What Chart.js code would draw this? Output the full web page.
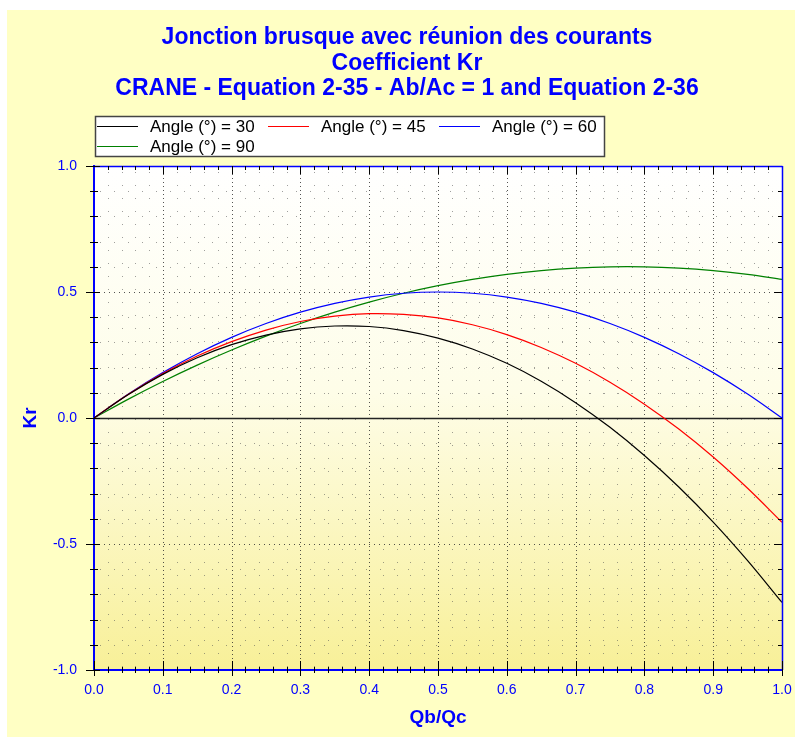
<!DOCTYPE html>
<html>
<head>
<meta charset="utf-8">
<script src="https://cdn.jsdelivr.net/npm/chart.js@4.4.0/dist/chart.umd.min.js"></script>
<style>
  html, body { margin: 0; padding: 0; background: #fff; }
  canvas { display: block; }
</style>
</head>
<body>
<canvas id="krChart" width="795" height="737"></canvas>
<script>
// titre et données
const titleLines = [
  'Jonction brusque avec réunion des courants',
  'Coefficient Kr',
  'CRANE - Equation 2-35 - Ab/Ac = 1 and Equation 2-36'
];
const xTitle = 'Qb/Qc';
const yTitle = 'Kr';
const seriesNames = ['Angle (°) = 30', 'Angle (°) = 45', 'Angle (°) = 60', 'Angle (°) = 90'];

const qb = [0, 0.05, 0.1, 0.15, 0.2, 0.25, 0.3, 0.35, 0.4, 0.45, 0.5,
            0.55, 0.6, 0.65, 0.7, 0.75, 0.8, 0.85, 0.9, 0.95, 1.0];
const kr30 = [0, 0.093, 0.173, 0.239, 0.291, 0.329, 0.354, 0.365, 0.363, 0.347, 0.317,
              0.274, 0.217, 0.146, 0.061, -0.037, -0.149, -0.274, -0.413, -0.566, -0.732];
const kr45 = [0, 0.094, 0.176, 0.246, 0.303, 0.349, 0.383, 0.404, 0.414, 0.411, 0.397,
              0.370, 0.331, 0.280, 0.217, 0.142, 0.055, -0.044, -0.155, -0.279, -0.414];
const kr60 = [0, 0.095, 0.180, 0.255, 0.320, 0.375, 0.420, 0.455, 0.480, 0.495, 0.500,
              0.495, 0.480, 0.455, 0.420, 0.375, 0.320, 0.255, 0.180, 0.095, 0];
const kr90 = [0, 0.075, 0.145, 0.210, 0.270, 0.325, 0.375, 0.420, 0.460, 0.495, 0.525,
              0.550, 0.570, 0.585, 0.595, 0.600, 0.600, 0.595, 0.585, 0.570, 0.550];

const FONT = "'Liberation Sans', Arial, sans-serif";
const BLUE = '#0000ff';

function toPoints(ys) {
  return qb.map((q, i) => ({ x: q, y: ys[i] }));
}

function seg(ctx, x1, y1, x2, y2) {
  ctx.beginPath();
  ctx.moveTo(x1, y1);
  ctx.lineTo(x2, y2);
  ctx.stroke();
}

// fond, dégradé, grille pointillée, ligne zéro
const backdrop = {
  id: 'backdrop',
  beforeDraw(chart) {
    const { ctx, chartArea: a, scales: { x, y } } = chart;
    ctx.save();
    ctx.fillStyle = '#ffffc4';
    ctx.fillRect(7, 10, chart.width - 7, chart.height - 10);

    const g = ctx.createLinearGradient(0, a.top, 0, a.bottom);
    g.addColorStop(0, '#ffffff');
    g.addColorStop(0.45, '#fefde8');
    g.addColorStop(1, '#f8f098');
    ctx.fillStyle = g;
    ctx.fillRect(a.left, a.top, a.right - a.left, a.bottom - a.top);

    ctx.lineWidth = 1;
    // petite grille
    ctx.strokeStyle = 'rgba(80,80,80,0.55)';
    ctx.setLineDash([1, 12]);
    for (let i = 1; i < 50; i++) {
      if (i % 5 === 0) continue;
      const px = Math.round(x.getPixelForValue(i / 50)) + 0.5;
      seg(ctx, px, a.top + 6, px, a.bottom);
    }
    ctx.setLineDash([1, 13]);
    for (let i = -9; i <= 9; i++) {
      if (i % 5 === 0) continue;
      const py = Math.round(y.getPixelForValue(i / 10)) + 0.5;
      seg(ctx, a.left + 6, py, a.right, py);
    }
    // grille principale
    ctx.strokeStyle = 'rgba(40,40,40,0.8)';
    ctx.setLineDash([1, 3]);
    for (let i = 1; i < 10; i++) {
      const px = Math.round(x.getPixelForValue(i / 10)) + 0.5;
      seg(ctx, px, a.top, px, a.bottom);
    }
    ctx.setLineDash([1, 4]);
    [-0.5, 0.5].forEach(v => {
      const py = Math.round(y.getPixelForValue(v)) + 0.5;
      seg(ctx, a.left, py, a.right, py);
    });
    ctx.setLineDash([]);
    ctx.strokeStyle = '#222';
    ctx.lineWidth = 1.4;
    const y0 = Math.round(y.getPixelForValue(0)) + 0.5;
    seg(ctx, a.left, y0, a.right, y0);
    ctx.restore();
  },
  afterDraw(chart) {
    const { ctx, chartArea: a, scales: { x, y } } = chart;
    ctx.save();
    // cadre haut / droite
    ctx.strokeStyle = BLUE;
    ctx.lineWidth = 1.5;
    seg(ctx, a.left, a.top + 0.5, a.right + 0.5, a.top + 0.5);
    seg(ctx, a.right + 0.5, a.top, a.right + 0.5, a.bottom);

    // graduations
    ctx.lineWidth = 1;
    ctx.strokeStyle = '#000';
    for (let i = 0; i <= 50; i++) {
      const px = Math.round(x.getPixelForValue(i / 50)) + 0.5;
      const major = i % 5 === 0;
      seg(ctx, px, a.bottom - (major ? 9 : 3), px, a.bottom + (major ? 6 : 3));
      if (i > 0 && i < 50) seg(ctx, px, a.top, px, a.top + (major ? 8 : 4));
    }
    for (let i = -10; i <= 10; i++) {
      const py = Math.round(y.getPixelForValue(i / 10)) + 0.5;
      const major = i % 5 === 0;
      seg(ctx, a.left - (major ? 8 : 4), py, a.left + (major ? 6 : 4), py);
      if (i > -10 && i < 10) seg(ctx, a.right - (major ? 8 : 4), py, a.right, py);
    }

    // titre
    ctx.fillStyle = BLUE;
    ctx.font = 'bold 23px ' + FONT;
    ctx.textAlign = 'center';
    ctx.textBaseline = 'middle';
    titleLines.forEach((t, i) => ctx.fillText(t, 407, 38 + i * 25.5));

    // légende
    ctx.fillStyle = '#ffffff';
    ctx.fillRect(95, 116, 509, 40);
    ctx.strokeStyle = '#444';
    ctx.lineWidth = 1.5;
    ctx.strokeRect(95.5, 116.5, 509, 40);
    ctx.font = '17px ' + FONT;
    ctx.textAlign = 'left';
    ctx.fillStyle = '#000';
    chart.data.datasets.forEach((ds, i) => {
      const lx = 97 + (i % 3) * 171;
      const ly = 126 + Math.floor(i / 3) * 20;
      ctx.strokeStyle = ds.borderColor;
      ctx.lineWidth = 1.2;
      seg(ctx, lx, ly + 0.5, lx + 41, ly + 0.5);
      ctx.fillText(ds.label, lx + 53, ly + 1);
    });
    ctx.restore();
  }
};

new Chart(document.getElementById('krChart'), {
  type: 'line',
  data: {
    datasets: [
      { label: seriesNames[0], data: toPoints(kr30), borderColor: '#000000' },
      { label: seriesNames[1], data: toPoints(kr45), borderColor: '#ff0000' },
      { label: seriesNames[2], data: toPoints(kr60), borderColor: '#0000ff' },
      { label: seriesNames[3], data: toPoints(kr90), borderColor: '#008000' }
    ]
  },
  options: {
    responsive: false,
    animation: false,
    devicePixelRatio: 1,
    layout: { padding: { top: 166, right: 13, left: 0, bottom: 0 } },
    elements: {
      line: { borderWidth: 1.2, tension: 0.35, fill: false },
      point: { radius: 0 }
    },
    plugins: {
      legend: { display: false },
      title: { display: false },
      tooltip: { enabled: false }
    },
    scales: {
      x: {
        type: 'linear',
        min: 0,
        max: 1,
        afterFit: s => { s.height = 67; s.paddingLeft = 0; s.paddingRight = 0; },
        grid: { display: false, drawTicks: false },
        border: { color: BLUE, width: 2 },
        ticks: {
          stepSize: 0.1,
          padding: 12,
          color: BLUE,
          font: { family: FONT, size: 14 },
          maxRotation: 0,
          callback: v => v.toFixed(1)
        },
        title: {
          display: true,
          text: xTitle,
          color: BLUE,
          font: { family: FONT, size: 19, weight: 'bold' },
          padding: { top: 0, bottom: 8 }
        }
      },
      y: {
        type: 'linear',
        min: -1,
        max: 1,
        afterFit: s => { s.width = 94; s.paddingTop = 0; s.paddingBottom = 0; },
        grid: { display: false, drawTicks: false },
        border: { color: BLUE, width: 2 },
        ticks: {
          stepSize: 0.5,
          padding: 17,
          color: BLUE,
          font: { family: FONT, size: 14 },
          callback: v => v.toFixed(1)
        },
        title: {
          display: true,
          text: yTitle,
          color: BLUE,
          font: { family: FONT, size: 19, weight: 'bold' },
          padding: { top: 19, bottom: 0 }
        }
      }
    }
  },
  plugins: [backdrop]
});
</script>
</body>
</html>
